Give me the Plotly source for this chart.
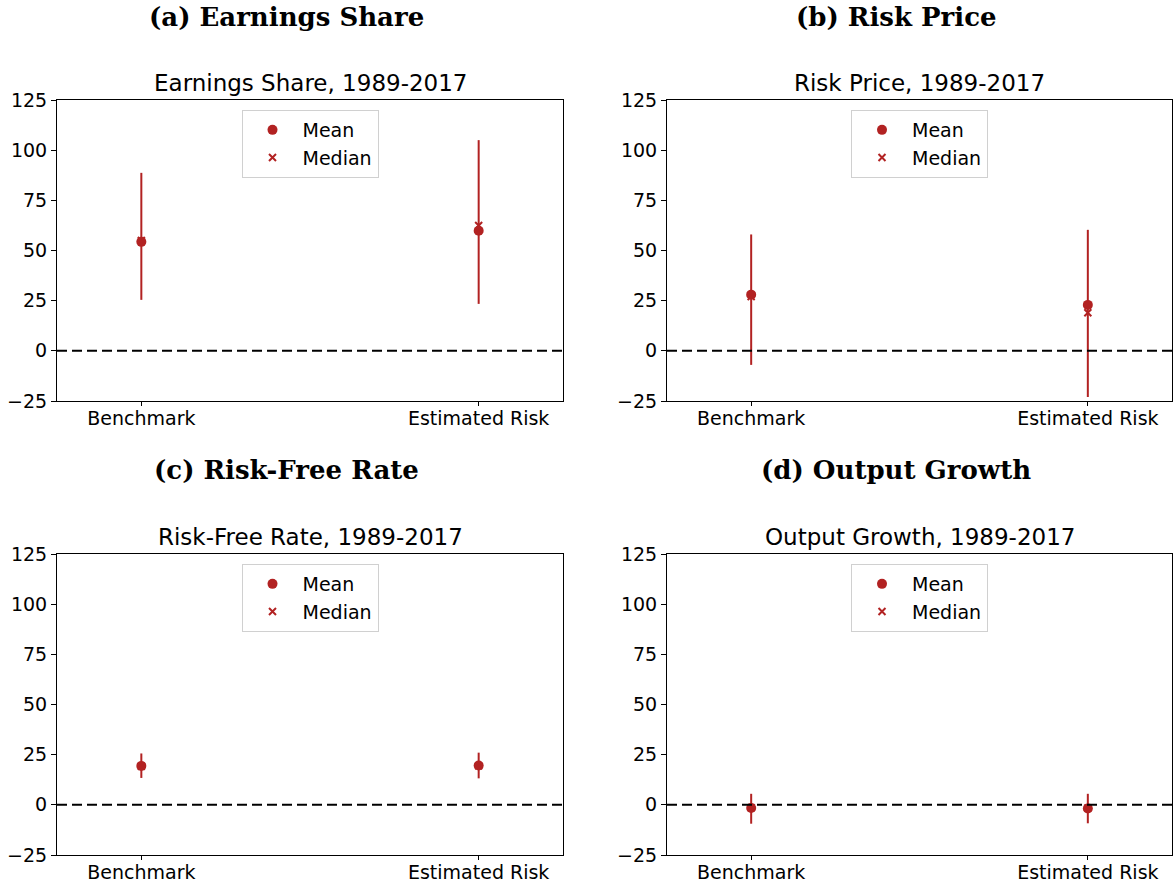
import plotly.graph_objects as go
from plotly.subplots import make_subplots

# data
categories = ["Benchmark", "Estimated Risk"]
panel_titles = ["(a) Earnings Share", "(b) Risk Price", "(c) Risk-Free Rate", "(d) Output Growth"]
sub_titles = ["Earnings Share, 1989-2017", "Risk Price, 1989-2017",
              "Risk-Free Rate, 1989-2017", "Output Growth, 1989-2017"]

earn_mean = [54.3, 59.8]
earn_median = [55.0, 62.5]
earn_lo = [25.4, 23.4]
earn_hi = [88.7, 105.0]

risk_mean = [28.0, 22.9]
risk_median = [27.0, 19.0]
risk_lo = [-7.0, -23.0]
risk_hi = [58.0, 60.3]

rf_mean = [19.4, 19.6]
rf_median = [19.2, 19.4]
rf_lo = [13.4, 13.2]
rf_hi = [25.6, 26.0]

out_mean = [-1.6, -1.8]
out_median = [-1.4, -1.6]
out_lo = [-9.4, -9.2]
out_hi = [5.5, 5.5]

panels = [
    (earn_mean, earn_median, earn_lo, earn_hi),
    (risk_mean, risk_median, risk_lo, risk_hi),
    (rf_mean, rf_median, rf_lo, rf_hi),
    (out_mean, out_median, out_lo, out_hi),
]

RED = "#b22222"
W, H = 1176, 891

fig = make_subplots(rows=2, cols=2)

xdoms = [(57 / W, 563 / W), (667 / W, 1172 / W)]
ydoms = [(1 - 401 / H, 1 - 100 / H), (1 - 855 / H, 1 - 554 / H)]
title_x = [286, 896]
title_y = [17, 470]
sub_y = [83, 537]
leg_top = [110, 564]

for i, (mean, med, lo, hi) in enumerate(panels):
    r, c = i // 2 + 1, i % 2 + 1
    leg = "legend" if i == 0 else "legend%d" % (i + 1)
    xpos = [0, 1]
    # median behind, mean on top
    fig.add_trace(go.Scatter(
        x=xpos, y=med, mode="markers", name="Median", legend=leg, legendrank=2,
        marker=dict(symbol="x-thin", size=7, color=RED, line=dict(color=RED, width=2)),
    ), row=r, col=c)
    fig.add_trace(go.Scatter(
        x=xpos, y=mean, mode="markers", name="Mean", legend=leg, legendrank=1,
        marker=dict(symbol="circle", size=10, color=RED),
        error_y=dict(type="data", symmetric=False,
                     array=[h - m for h, m in zip(hi, mean)],
                     arrayminus=[m - l for m, l in zip(mean, lo)],
                     color=RED, thickness=2, width=0),
    ), row=r, col=c)
    fig.add_hline(y=0, line=dict(color="black", width=2, dash="10px,5px"), row=r, col=c)

    xd = xdoms[c - 1]
    yd = ydoms[r - 1]
    axn = "" if i == 0 else str(i + 1)
    fig.layout["xaxis" + axn].update(
        domain=xd, range=[-0.25, 1.25], tickvals=xpos, ticktext=categories,
        showline=True, mirror=True, linecolor="black", linewidth=1, automargin=False,
        ticks="outside", ticklen=4, tickcolor="black", showgrid=False, zeroline=False,
        ticklabelstandoff=-4,
        tickfont=dict(family="DejaVu Sans", size=19, color="black"),
    )
    fig.layout["yaxis" + axn].update(
        domain=yd, range=[-25, 125], tickvals=[-25, 0, 25, 50, 75, 100, 125],
        showline=True, mirror=True, linecolor="black", linewidth=1, automargin=False,
        ticks="outside", ticklen=5, tickcolor="black", showgrid=False, zeroline=False,
        tickfont=dict(family="DejaVu Sans", size=19, color="black"),
    )
    fig.layout[leg] = dict(
        x=(xd[0] + xd[1]) / 2, y=1 - leg_top[r - 1] / H,
        xanchor="center", yanchor="top", bgcolor="white",
        bordercolor="#d0d0d0", borderwidth=1, itemwidth=50,
        font=dict(family="DejaVu Sans", size=19, color="black"),
    )
    fig.add_annotation(text="<b>" + panel_titles[i] + "</b>", xref="paper", yref="paper",
                       x=title_x[c - 1] / W, y=1 - title_y[r - 1] / H,
                       xanchor="center", yanchor="middle", showarrow=False,
                       font=dict(family="DejaVu Serif", size=26, color="black"))
    fig.add_annotation(text=sub_titles[i], xref="paper", yref="paper",
                       x=(xd[0] + xd[1]) / 2, y=1 - sub_y[r - 1] / H,
                       xanchor="center", yanchor="middle", showarrow=False,
                       font=dict(family="DejaVu Sans", size=23, color="black"))

fig.update_layout(
    width=W, height=H, margin=dict(l=0, r=0, t=0, b=0, autoexpand=False),
    plot_bgcolor="white", paper_bgcolor="white", showlegend=True,
)

# drop the page's default body margin so the figure fills the window
fig.write_html("out.html", config={"displayModeBar": False},
               post_script="document.body.style.margin='0';")
